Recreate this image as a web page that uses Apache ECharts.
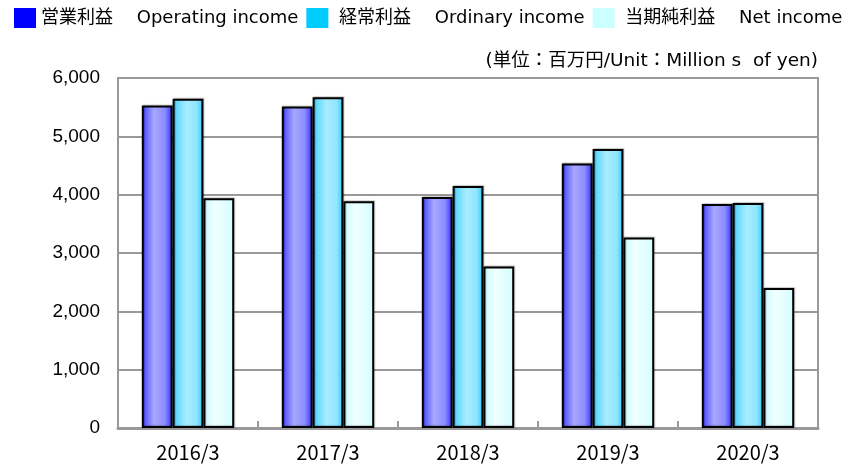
<!DOCTYPE html>
<html><head><meta charset="utf-8">
<script src="https://cdn.jsdelivr.net/npm/echarts@6/dist/echarts.min.js"></script>
<style>html,body{margin:0;padding:0;background:#fff}#c{width:854px;height:465px}</style>
</head><body><div id="c"></div>
<script>
const categories = ['2016/3', '2017/3', '2018/3', '2019/3', '2020/3'];
const seriesNames = ['営業利益　 Operating income', ' 経常利益　 Ordinary income', ' 当期純利益　 Net income'];
const operatingIncome = [5527, 5510, 3961, 4535, 3841];
const ordinaryIncome = [5646, 5670, 4149, 4781, 3858];
const netIncome = [3937, 3886, 2769, 3265, 2398];
const yTicks = [0, 1000, 2000, 3000, 4000, 5000, 6000];
const unitText = '(単位：百万円/Unit：Million s  of yen)';

const legendColors = ['#0000ff', '#00ccff', '#ccffff'];
function grad(stops) {
  return new echarts.graphic.LinearGradient(0, 0, 1, 0, stops.map(c => ({offset: c[0], color: c[1]})));
}
const fills = [
  grad([[0, '#2a2aff'], [0.12, '#6060ff'], [0.4, '#a8a8ff'], [0.75, '#8c8cff'], [1, '#3030ff']]),
  grad([[0, '#22c4f4'], [0.12, '#60d8ff'], [0.45, '#a8ecff'], [0.78, '#90e6ff'], [1, '#30c8f8']]),
  grad([[0, '#c8fcff'], [0.4, '#f0ffff'], [1, '#d2fdff']])
];
const datas = [operatingIncome, ordinaryIncome, netIncome];

const chart = echarts.init(document.getElementById('c'), null, {renderer: 'canvas'});
chart.setOption({
  animation: false,
  backgroundColor: '#fff',
  legend: {
    left: 14, top: 8, width: 1000, padding: 0,
    itemWidth: 22, itemHeight: 20, itemGap: 8,
    textStyle: {fontSize: 18, color: '#000', fontFamily: 'DejaVu Sans, Noto Sans CJK JP'},
    data: seriesNames.map((n, i) => ({name: n, icon: 'rect', itemStyle: {color: legendColors[i], borderWidth: 0}}))
  },
  graphic: [{
    type: 'text', right: 36, top: 52,
    style: {text: unitText, fontSize: 18.5, fill: '#000', fontFamily: 'DejaVu Sans, Noto Sans CJK JP'}
  }],
  grid: {left: 118, right: 36, top: 78, bottom: 37, show: true, borderColor: '#999', borderWidth: 2},
  xAxis: {
    type: 'category', data: categories,
    axisLine: {lineStyle: {color: '#999', width: 3}},
    axisTick: {show: true, inside: true, length: 7, lineStyle: {color: '#999', width: 2}},
    axisLabel: {color: '#000', fontSize: 20, margin: 14, fontFamily: 'Noto Sans CJK JP'}
  },
  yAxis: {
    type: 'value', min: yTicks[0], max: yTicks[yTicks.length - 1], interval: 1000,
    axisLine: {show: true, lineStyle: {color: '#999', width: 2}},
    axisTick: {show: false},
    splitLine: {lineStyle: {color: '#999', width: 2}},
    axisLabel: {color: '#000', fontSize: 19, margin: 18, fontFamily: 'Liberation Sans',
      formatter: v => v.toLocaleString('en-US')}
  },
  series: datas.map((d, i) => ({
    name: seriesNames[i], type: 'bar', data: d,
    barGap: '0%', barCategoryGap: '34%',
    itemStyle: {color: fills[i], borderColor: '#000', borderWidth: 2,
      shadowColor: 'rgba(0,0,0,0.2)', shadowBlur: 1, shadowOffsetX: 1, shadowOffsetY: -1}
  }))
});
</script></body></html>
